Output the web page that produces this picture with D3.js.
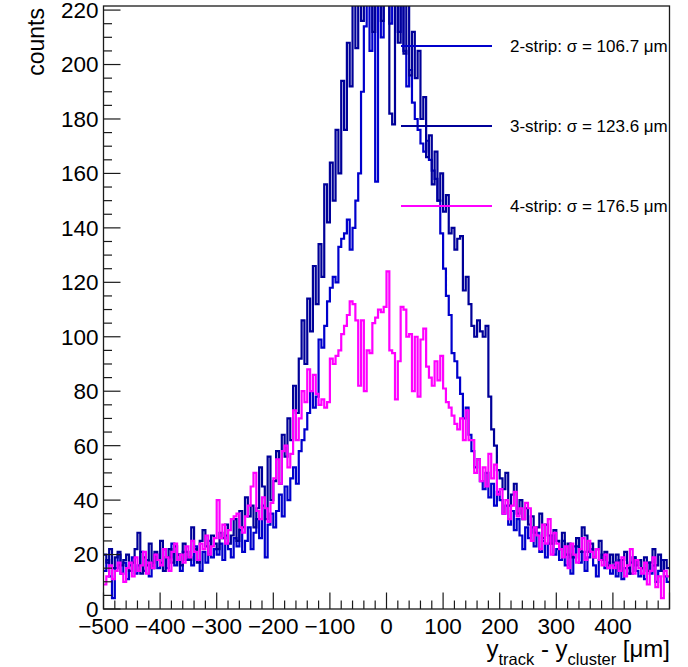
<!DOCTYPE html>
<html><head><meta charset="utf-8">
<script src="https://cdn.jsdelivr.net/npm/d3@7/dist/d3.min.js"></script>
<style>body{margin:0;background:#fff}svg{display:block}text{font-family:"Liberation Sans",Arial,Helvetica,sans-serif}</style>
</head><body><svg id="c" width="688" height="667"></svg>
<script>
// bin edges: 200 bins of 5 µm from -500 to 500
const binLow = -500, binWidth = 5;
const xTickLabels = [-500,-400,-300,-200,-100,0,100,200,300,400];
const yTickLabels = [0,20,40,60,80,100,120,140,160,180,200,220];
const seriesNames = ["2-strip","3-strip","4-strip"];
const sigmas = ["106.7","123.6","176.5"];
const colors = ["#0000cc","#000099","#ff00ff"];

const strip2 = [
14,18,12,4,15,20,13,17,11,16,
19,13,16,21,14,18,12,17,20,15,
17,22,15,19,24,16,20,14,21,18,
19,16,23,18,14,21,17,25,19,22,
20,24,18,27,22,19,26,23,29,21,
25,30,22,28,33,26,38,19,31,35,
30,36,42,34,45,40,48,52,46,58,
62,66,72,80,74,78,99,96,104,113,
118,122,120,133,136,138,143,132,140,150,
160,190,214,232,205,236,157,230,210,240,
238,215,229,235,212,226,205,192,198,186,
180,176,171,168,172,165,161,158,150,138,
125,115,108,94,91,85,79,70,74,64,
58,52,55,47,44,50,41,46,38,43,
40,35,38,31,36,29,33,27,22,30,
26,30,23,28,21,25,19,24,27,20,
22,18,25,16,20,13,19,23,17,21,
14,19,22,16,12,18,20,15,17,13,
16,12,18,11,15,13,17,19,14,12,
15,11,17,13,16,10,14,18,12,10];

const strip3 = [
20,17,22,15,19,21,16,18,20,14,
17,22,28,13,19,16,24,15,21,18,
25,14,19,22,17,23,20,16,24,21,
18,30,22,17,25,29,23,20,27,24,
22,28,26,31,24,27,33,25,36,30,
41,34,38,30,37,52,45,33,56,40,
47,58,46,64,56,70,62,82,72,92,
106,90,114,102,126,112,134,122,156,142,
164,150,176,160,194,176,208,192,224,206,
240,216,245,222,238,212,250,228,216,245,
233,182,178,230,208,228,204,222,196,212,
195,205,180,188,166,174,156,168,150,160,
146,152,138,140,132,136,137,117,122,112,
104,100,106,102,100,104,78,66,60,51,
48,44,50,38,42,46,35,40,33,37,
31,34,28,30,35,26,31,27,24,29,
25,22,28,20,24,19,23,26,21,30,
27,21,24,19,22,25,18,21,16,20,
17,20,14,18,21,15,13,19,16,18,
15,19,14,17,22,16,20,14,18,15];

const strip4 = [
9,12,16,11,14,17,13,10,15,17,
12,19,14,16,21,13,17,15,20,18,
16,22,19,14,21,24,18,20,17,23,
19,25,21,18,24,22,27,20,23,26,
40,26,31,24,29,33,34,35,30,28,
34,38,45,50,36,33,41,37,32,39,
48,55,46,58,60,52,57,73,62,70,
80,76,88,80,86,79,75,77,74,76,
92,90,93,95,101,104,108,113,112,106,
82,106,80,95,94,105,107,110,109,111,
124,95,94,77,91,111,110,100,101,80,
100,78,99,103,89,85,82,91,84,93,
81,76,74,71,68,66,70,62,73,62,
62,50,55,47,52,45,57,48,53,42,
44,35,40,33,38,43,34,37,33,39,
37,25,30,27,22,31,24,33,20,28,
24,22,19,23,15,24,20,17,22,26,
18,25,21,19,22,18,16,20,15,16,
15,17,14,19,12,16,22,13,18,15,
13,17,9,14,19,8,12,4,14,12];

const allSeries = [strip2, strip3, strip4];

const svg = d3.select("#c");
const L = 103.5, R = 669.5, T = 6, B = 609;
const x = d3.scaleLinear().domain([-500, 500]).range([L, R]);
const y = d3.scaleLinear().domain([0, 221.5]).range([B, T]);

svg.append("defs").append("clipPath").attr("id","clip")
  .append("rect").attr("x", L).attr("y", T).attr("width", R-L).attr("height", B-T);

const g = svg.append("g").attr("clip-path","url(#clip)");
const line = d3.line().x(d => x(d[0])).y(d => y(d[1])).curve(d3.curveStepAfter);
allSeries.forEach((s, k) => {
  const pts = s.map((v, i) => [binLow + i*binWidth, v]);
  pts.push([binLow + s.length*binWidth, s[s.length-1]]);
  g.append("path").attr("d", line(pts)).attr("fill","none")
    .attr("stroke", colors[k]).attr("stroke-width", 2.2).attr("stroke-linejoin","miter");
});

// frame
svg.append("rect").attr("x", L).attr("y", T).attr("width", R-L).attr("height", B-T)
  .attr("fill","none").attr("stroke","#1a1a1a").attr("stroke-width",1.3);

// ticks (inside)
const axG = svg.append("g").attr("stroke","#1a1a1a").attr("stroke-width",1.2);
d3.range(0, 221, 5).forEach(v => {
  const major = v % 20 === 0;
  axG.append("line").attr("x1", L).attr("x2", L + (major ? 17 : 8.5))
    .attr("y1", y(v)).attr("y2", y(v));
});
d3.range(-500, 501, 20).forEach(v => {
  const major = v % 100 === 0;
  axG.append("line").attr("x1", x(v)).attr("x2", x(v))
    .attr("y1", B).attr("y2", B - (major ? 16.5 : 8.5));
});

const fmt = d3.format("d");
yTickLabels.forEach(v => {
  svg.append("text").attr("x", L - 5).attr("y", y(v)).attr("dy","0.35em")
    .attr("text-anchor","end").attr("font-size",22.5).attr("fill","#000").text(fmt(v));
});
xTickLabels.forEach(v => {
  svg.append("text").attr("x", x(v)).attr("y", 634)
    .attr("text-anchor","middle").attr("font-size",22.5).attr("fill","#000").text(fmt(v));
});

// axis titles
svg.append("text").attr("transform","translate(44,8) rotate(-90)")
  .attr("text-anchor","end").attr("font-size",23).text("counts");
const xt = svg.append("text").attr("x", 670).attr("y", 657).attr("text-anchor","end").attr("font-size",24);
xt.append("tspan").text("y");
xt.append("tspan").attr("font-size",16.5).attr("dy",8).text("track");
xt.append("tspan").attr("dy",-8).text(" - y");
xt.append("tspan").attr("font-size",16.5).attr("dy",8).text("cluster");
xt.append("tspan").attr("dy",-8).text(" [μm]");

// legend lines + labels
const legY = [46, 126, 206];
seriesNames.forEach((n, k) => {
  svg.append("line").attr("x1", 401).attr("x2", 492).attr("y1", legY[k]).attr("y2", legY[k])
    .attr("stroke", colors[k]).attr("stroke-width", 2.2);
  svg.append("text").attr("x", 510).attr("y", legY[k]).attr("dy","0.36em")
    .attr("font-size",17).attr("fill","#000")
    .text(n + ": σ = " + sigmas[k] + " μm");
});
</script></body></html>
